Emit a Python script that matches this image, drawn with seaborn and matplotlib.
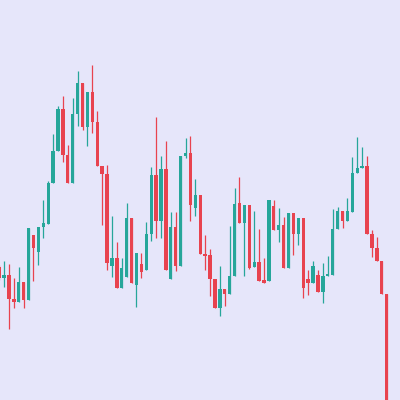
# Candlestick chart on a lavender background, no axes
import pandas as pd
import matplotlib.pyplot as plt
import seaborn as sns

# OHLC values (one per candle, left to right)
opens = [133, 122, 125, 101, 98, 118, 100, 165, 148, 173,
         176, 217, 249, 291, 245, 217, 286, 317, 273, 308,
         278, 234, 226, 134, 142, 112, 123, 182, 115, 136,
         130, 166, 225, 179, 231, 121, 173, 134, 244, 247,
         192, 205, 146, 145, 121, 92, 111, 106, 124, 197,
         177, 195, 133, 138, 120, 119, 194, 170, 175, 132,
         187, 166, 182, 121, 117, 125, 108, 124, 125, 171,
         189, 179, 188, 227, 232, 234, 166, 152, 139, 106]
highs = [135, 139, 136, 122, 133, 118, 172, 165, 173, 200,
         219, 266, 294, 304, 255, 302, 329, 317, 308, 335,
         289, 234, 235, 184, 158, 142, 197, 182, 147, 147,
         178, 233, 283, 244, 259, 188, 188, 244, 262, 264,
         221, 205, 165, 151, 121, 134, 111, 174, 212, 223,
         195, 195, 189, 171, 142, 200, 200, 192, 183, 187,
         187, 182, 182, 130, 139, 130, 137, 144, 191, 193,
         189, 202, 243, 263, 253, 244, 170, 163, 139, 106]
lows = [120, 113, 71, 92, 98, 92, 100, 119, 135, 162,
        176, 217, 249, 238, 217, 217, 274, 270, 254, 267,
        234, 175, 130, 123, 112, 112, 123, 117, 93, 122,
        130, 159, 162, 162, 130, 121, 129, 134, 242, 179,
        184, 146, 130, 104, 92, 84, 94, 106, 124, 177,
        124, 131, 133, 119, 117, 119, 170, 158, 132, 132,
        145, 155, 102, 105, 117, 108, 97, 124, 125, 171,
        172, 179, 188, 227, 232, 166, 143, 139, 106, -5]
closes = [122, 125, 101, 98, 118, 100, 172, 152, 173, 177,
          217, 249, 291, 245, 217, 286, 317, 273, 308, 278,
          234, 226, 137, 142, 112, 132, 182, 117, 147, 128,
          166, 225, 179, 231, 130, 173, 134, 244, 247, 195,
          205, 146, 144, 121, 92, 111, 106, 124, 196, 177,
          195, 132, 138, 119, 117, 200, 170, 175, 132, 187,
          166, 182, 112, 117, 134, 108, 124, 126, 171, 189,
          179, 189, 227, 232, 234, 166, 152, 139, 106, -5]

up_color = "#26a69a"
down_color = "#e8434f"
bg_color = "#e6e6fa"

df = pd.DataFrame({"t": range(len(opens)), "open": opens, "high": highs,
                   "low": lows, "close": closes})
df["up"] = df["close"] >= df["open"]
df["bottom"] = df[["open", "close"]].min(axis=1)
df["height"] = (df["close"] - df["open"]).abs()

sns.set_theme(style="white", rc={"axes.facecolor": bg_color,
                                 "figure.facecolor": bg_color})
fig = plt.figure(figsize=(4, 4), dpi=100)
ax = fig.add_axes([0, 0, 1, 1])

colors = {True: up_color, False: down_color}
for up, sub in df.groupby("up"):
    ax.vlines(sub["t"], sub["low"], sub["high"], color=colors[up], lw=0.9, zorder=1)
    sns.barplot(data=sub, x="t", y="height", bottom=sub["bottom"].to_numpy(),
                native_scale=True, color=colors[up], saturation=1, width=0.68,
                errorbar=None, linewidth=0, ax=ax, zorder=2)

ax.set_xlim(0.18, 81.72)
ax.set_ylim(0, 400)
ax.set_axis_off()
fig.savefig("out.png", dpi=100, facecolor=bg_color)
